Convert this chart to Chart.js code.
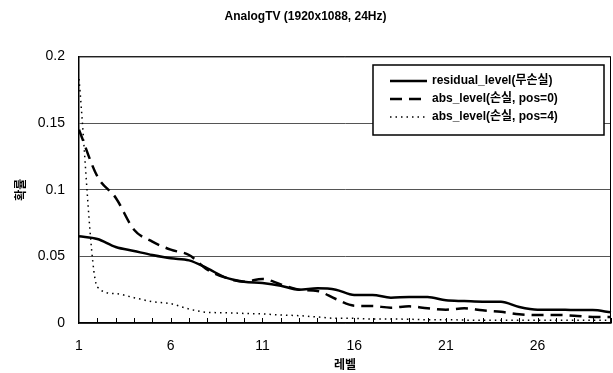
<!DOCTYPE html>
<html><head><meta charset="utf-8">
<script src="https://cdn.jsdelivr.net/npm/chart.js@4.4.1/dist/chart.umd.min.js"></script>
<style>html,body{margin:0;padding:0;background:#fff}</style>
</head><body>
<canvas id="c" width="613" height="373"></canvas>
<script>
// ---- data ----
const chartTitle = "AnalogTV (1920x1088, 24Hz)";
const xTitle = "레벨";
const yTitle = "확률";
const categories = ["1","2","3","4","5","6","7","8","9","10","11","12","13","14","15","16","17","18","19","20","21","22","23","24","25","26","27","28","29","30"];
const xTickLabels = ["1","6","11","16","21","26"];
const yTickValues = [0, 0.05, 0.1, 0.15, 0.2];
const seriesNames = ["residual_level(무손실)", "abs_level(손실, pos=0)", "abs_level(손실, pos=4)"];
const residualLevel = [0.065,0.063,0.057,0.054,0.051,0.0485,0.047,0.041,0.034,0.031,0.030,0.028,0.025,0.026,0.025,0.021,0.021,0.019,0.0195,0.0195,0.017,0.0165,0.016,0.016,0.012,0.010,0.010,0.0097,0.0097,0.008];
const absLevelPos0 = [0.145,0.110,0.094,0.070,0.061,0.055,0.051,0.040,0.034,0.031,0.033,0.029,0.025,0.024,0.018,0.0130,0.0127,0.0115,0.0125,0.011,0.010,0.011,0.0095,0.0084,0.0065,0.006,0.006,0.0055,0.0045,0.0045];
const absLevelPos4 = [0.183,0.027,0.022,0.019,0.016,0.0145,0.0105,0.008,0.0077,0.0072,0.0068,0.006,0.0055,0.0045,0.0035,0.0035,0.003,0.003,0.0028,0.0025,0.0025,0.0022,0.002,0.002,0.002,0.002,0.002,0.002,0.002,0.002];

const FONT = "'Liberation Sans', 'Noto Sans CJK KR', sans-serif";

const frameAndTicks = {
  id: 'frameAndTicks',
  beforeDatasetsDraw(chart) {
    const {ctx, chartArea: a, scales: {x}} = chart;
    ctx.save();
    ctx.strokeStyle = '#000';
    ctx.lineWidth = 1;
    ctx.beginPath();
    ctx.moveTo(a.left, a.top + 0.5); ctx.lineTo(a.right - 0.5, a.top + 0.5); ctx.lineTo(a.right - 0.5, a.bottom);
    ctx.stroke();
    ctx.beginPath();
    for (let i = 1; i < categories.length; i++) {
      const px = Math.round(x.getPixelForValue(i)) + 0.5;
      ctx.moveTo(px, a.bottom); ctx.lineTo(px, a.bottom - 5);
    }
    ctx.stroke();
    ctx.restore();
  }
};

const boxLegend = {
  id: 'boxLegend',
  afterDatasetsDraw(chart) {
    const {ctx} = chart;
    const L = 373, T = 65, R = 604, B = 135;
    ctx.save();
    ctx.fillStyle = '#fff';
    ctx.fillRect(L, T, R - L, B - T);
    ctx.strokeStyle = '#000';
    ctx.lineWidth = 1.5;
    ctx.strokeRect(L, T, R - L, B - T);
    chart.data.datasets.forEach((ds, i) => {
      const y = 81 + i * 18;
      ctx.strokeStyle = ds.borderColor;
      ctx.lineWidth = ds.borderWidth;
      ctx.setLineDash(ds.borderDash || []);
      ctx.beginPath();
      ctx.moveTo(390, y); ctx.lineTo(427, y);
      ctx.stroke();
      ctx.setLineDash([]);
      ctx.fillStyle = '#000';
      ctx.font = "bold 12px " + FONT;
      ctx.textBaseline = 'middle';
      ctx.textAlign = 'left';
      ctx.fillText(ds.label, 432, y);
    });
    ctx.restore();
  }
};

new Chart(document.getElementById('c'), {
  type: 'line',
  data: {
    labels: categories,
    datasets: [
      {label: seriesNames[0], data: residualLevel, borderColor: '#000', borderWidth: 2.5, pointRadius: 0, cubicInterpolationMode: 'monotone', fill: false},
      {label: seriesNames[1], data: absLevelPos0, borderColor: '#000', borderWidth: 2.5, borderDash: [12, 7], pointRadius: 0, cubicInterpolationMode: 'monotone', fill: false},
      {label: seriesNames[2], data: absLevelPos4, borderColor: '#000', borderWidth: 1.5, borderDash: [1.5, 4], pointRadius: 0, cubicInterpolationMode: 'monotone', fill: false}
    ]
  },
  options: {
    responsive: false,
    animation: false,
    layout: {padding: {left: 0, right: 2, top: 0, bottom: 0}},
    plugins: {
      legend: {display: false},
      tooltip: {enabled: false},
      title: {display: true, text: chartTitle, color: '#000', font: {family: FONT, size: 12, weight: 'bold'}, padding: {top: 9, bottom: 33}}
    },
    scales: {
      x: {
        type: 'category',
        offset: false,
        grid: {display: false, drawTicks: false},
        border: {display: true, color: '#000', width: 1.5},
        ticks: {
          autoSkip: false, maxRotation: 0, minRotation: 0, padding: 15, color: '#000',
          font: {family: FONT, size: 14},
          callback: function(v, i) { const lbl = categories[i]; return xTickLabels.includes(lbl) ? lbl : ''; }
        },
        title: {display: true, text: xTitle, color: '#000', font: {family: FONT, size: 12, weight: 'bold'}, padding: {top: 0, bottom: 0}},
        afterFit: s => { s.height = 50; s.paddingRight = 0; s.paddingLeft = 0; }
      },
      y: {
        min: 0, max: 0.2,
        grid: {color: '#555', lineWidth: 1, drawTicks: false},
        border: {display: true, color: '#000', width: 1.5},
        afterBuildTicks: s => { s.ticks = yTickValues.map(v => ({value: v})); },
        ticks: {
          padding: 14, color: '#000', font: {family: FONT, size: 14},
          callback: v => String(Number(v.toFixed(2)))
        },
        title: {display: true, text: yTitle, color: '#000', font: {family: FONT, size: 12, weight: 'bold'}, padding: {top: 14, bottom: 0}},
        afterFit: s => { s.width = 79; }
      }
    }
  },
  plugins: [frameAndTicks, boxLegend]
});
</script>
</body></html>
